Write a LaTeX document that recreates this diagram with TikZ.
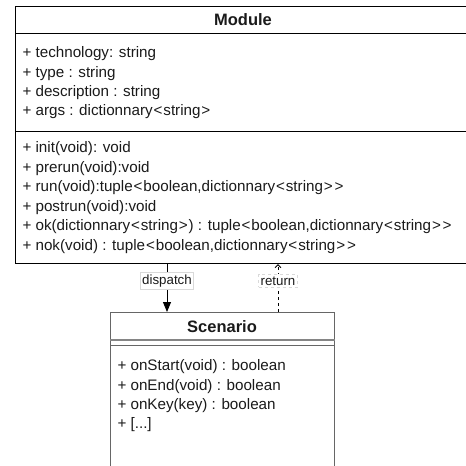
\documentclass[tikz,border=0pt]{standalone}
\usepackage{fontspec}
\newfontfamily\umlfont{Liberation Sans}
\usetikzlibrary{arrows.meta, positioning}
\definecolor{mGrey}{HTML}{666666}
\definecolor{mText}{HTML}{1A1A1A}
\newcommand{\moreops}{+ [...]}
\newcommand{\angl}{\kern0.9pt<\kern0.9pt}
\newcommand{\angr}{\kern0.9pt>\kern0.9pt}

\begin{document}
\begin{tikzpicture}[x=1pt, y=-1pt, >=Stealth, line width=1pt,
      classbox/.style={draw, inner sep=0pt, anchor=north west},
      title/.style={font=\umlfont\fontsize{16.5}{18}\selectfont\bfseries, inner sep=0pt, text=mText},
      member/.style={font=\umlfont\fontsize{15.2}{17}\selectfont, anchor=west, inner sep=0pt, text=mText},
      lbl/.style={draw=black!15, line width=0.6pt, fill=white, inner sep=2pt, font=\umlfont\fontsize{13.3}{15}\selectfont, text=mText}]
    \clip (0,0) rectangle (466,466);
    % Module class
    \node[classbox, minimum width=456pt, minimum height=257pt] (module) at (15,6) {};
    \node[title] (modtitle) at (243,19.5) {Module};
    \draw ([yshift=-27pt]module.north west) -- ([yshift=-27pt]module.north east);
    \draw ([yshift=-125pt]module.north west) -- ([yshift=-125pt]module.north east);
    \foreach \txt [count=\i from 0] in {{+ technology: string}, {+ type : string},
        {+ description : string}, {+ args : dictionnary\angl string\angr}}
      \node[member] (attr\i) at (22, 54+19.3*\i) {\txt};
    \foreach \txt [count=\i from 0] in {{+ init(void): void}, {+ prerun(void):void},
        {+ run(void):tuple\angl boolean,dictionnary\angl string\angr\angr}, {+ postrun(void):void},
        {+ ok(dictionnary\angl string\angr) : tuple\angl boolean,dictionnary\angl string\angr\angr},
        {+ nok(void) : tuple\angl boolean,dictionnary\angl string\angr\angr}}
      \node[member] (meth\i) at (22, 149+19.5*\i) {\txt};
    % Scenario class
    \node[classbox, draw=mGrey, line width=1.3pt, minimum width=224pt, minimum height=170pt] (scenario) at (110,312) {};
    \node[title] (scentitle) at (222,326.5) {Scenario};
    \draw[mGrey!80, line width=1.6pt] ([yshift=-28pt]scenario.north west) -- ([yshift=-28pt]scenario.north east);
    \draw[mGrey] ([yshift=-33pt]scenario.north west) -- ([yshift=-33pt]scenario.north east);
    \foreach \txt [count=\i from 0] in {{+ onStart(void) : boolean}, {+ onEnd(void) : boolean},
        {+ onKey(key) : boolean}, \moreops}
      \node[member] (op\i) at (117, 367+19.3*\i) {\txt};
    % calls between the two
    \coordinate (dx) at (167,0);
    \coordinate (rx) at (278,0);
    \draw[-{Triangle[length=10pt, width=8pt]}] (module.south -| dx) -- node[lbl, pos=0.35] {dispatch} (scenario.north -| dx);
    \draw[dash pattern=on 3pt off 3pt, -{Straight Barb[length=3pt, width=6pt]}] (scenario.north -| rx) -- node[lbl, pos=0.65] {return} (module.south -| rx);
  \end{tikzpicture}
\end{document}
